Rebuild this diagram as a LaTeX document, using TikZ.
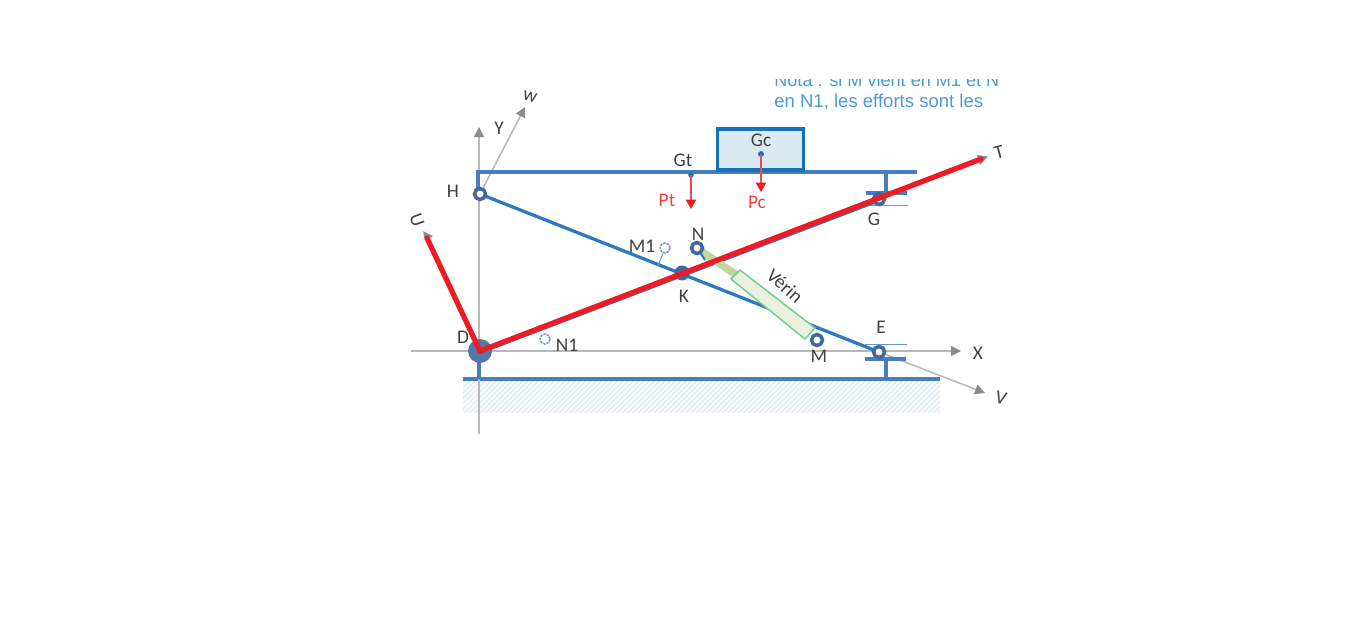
\documentclass[tikz,border=0pt]{standalone}
\usepackage{fontspec}
\setmainfont{Carlito}
\newfontfamily\notafont{Liberation Sans}
\usetikzlibrary{patterns,arrows.meta}
\definecolor{linkblue}{HTML}{2A7ABF}
\definecolor{steel}{HTML}{4A7EBB}
\definecolor{pinblue}{HTML}{41679F}
\definecolor{boxedge}{HTML}{1272BC}
\definecolor{boxfill}{HTML}{DAEAF2}
\definecolor{axisgrey}{HTML}{B8B8B8}
\definecolor{headgrey}{HTML}{8C8C8C}
\definecolor{forcered}{HTML}{ED1C24}
\definecolor{labelred}{HTML}{F5403F}
\definecolor{notablue}{HTML}{4C9AD6}
\definecolor{hatchblue}{HTML}{CFE6EC}
\definecolor{rodgreen}{HTML}{C3D69B}
\definecolor{cylfill}{HTML}{EBF1DE}
\definecolor{cyledge}{HTML}{6FCF8F}
\definecolor{labelgrey}{HTML}{404040}
\tikzset{
  x=0.02cm,y=-0.02cm,
  axisline/.style={draw=axisgrey,line width=0.03cm,-{Triangle[length=0.2cm,width=0.2cm,color=headgrey]}},
  linkbar/.style={draw=linkblue,line width=0.065cm},
  frame/.style={draw=steel,line width=0.085cm},
  thinguide/.style={draw=steel!80,line width=0.02cm},
  redbar/.style={draw=forcered,line width=0.105cm,line cap=round},
  weight/.style={draw=forcered!80,line width=0.025cm,-{Triangle[length=0.19cm,width=0.21cm,color=forcered]}},
  ring/.style={circle,draw=pinblue,fill=white,line width=0.07cm,minimum size=0.22cm,inner sep=0pt},
  ghostring/.style={circle,draw=pinblue!70,dashed,dash pattern=on 0.05cm off 0.02cm,fill=white,line width=0.03cm,minimum size=0.2cm,inner sep=0pt},
  lab/.style={text=labelgrey,font=\fontsize{11pt}{13pt}\selectfont,inner sep=0pt},
  redlab/.style={text=labelred,font=\fontsize{11pt}{13pt}\selectfont,inner sep=0pt},
  nota/.style={text=notablue,font=\notafont\fontsize{10.55pt}{12pt}\selectfont,inner sep=0pt,anchor=base west},
  notacut/.style={text=notablue,font=\notafont\fontsize{10.3pt}{12pt}\selectfont,inner sep=0pt,anchor=base west}
}
\begin{document}
\begin{tikzpicture}
\useasboundingbox (0,0) rectangle (1350,619);
% key points
\coordinate (H) at (480,194);
\coordinate (D) at (480,351);
\coordinate (E) at (879,352);
\coordinate (G) at (879,199);
\coordinate (Kp) at (682,273);
\coordinate (Np) at (697,248);
\coordinate (Mp) at (817,340);
\coordinate (Mone) at (665,248);
\coordinate (None) at (545,339);
\coordinate (Gtp) at (691,175);
\coordinate (Gcp) at (761,154);
% note text, cut at its top
\begin{scope}
\clip (760,79.5) rectangle (1010,120);
\node[notacut] (nota1) at (774,86) {Nota : si M vient en M1 et N};
\node[nota] (nota2) at (774,107) {en N1, les efforts sont les};
\end{scope}
% ground
\fill[pattern=north east lines,pattern color=hatchblue] (463,380) rectangle (940,412);
\fill[hatchblue,opacity=0.18] (463,380) rectangle (940,412);
\coordinate (gl) at (463,379);
\coordinate (gr) at (940,379);
\draw[frame] (gl) -- (gr);
% axes
\coordinate (Xa) at (411,351);
\coordinate (Xb) at (961,351);
\coordinate (Ya) at (479,434);
\coordinate (Yb) at (479,127);
\coordinate (Wb) at (525,107);
\coordinate (Vb) at (985,393);
\draw[axisline] (Xa) -- (Xb);
\draw[axisline] (Ya) -- (Yb);
\draw[axisline] (H) -- (Wb);
\draw[axisline] (E) -- (Vb);
% top beam and load
\coordinate (hs) at (478,194);
\coordinate (bl) at (478,172);
\coordinate (br) at (917,172);
\coordinate (gs) at (886,172);
\coordinate (gb) at (886,193);
\coordinate (es) at (886,379);
\coordinate (eb) at (886,359);
\coordinate (ds) at (479,379);
\coordinate (dt) at (479,351);
\draw[frame] (hs) -- (bl) -- (br);
\draw[frame] (gs) -- (gb);
\draw[frame] (866,193) -- (907,193);
\draw[thinguide] (866,205) -- (908,205);
\draw[frame] (es) -- (eb);
\draw[frame] (865,359) -- (906,359);
\draw[thinguide] (865,344) -- (907,344);
\draw[frame] (dt) -- (ds);
\node[draw=boxedge,fill=boxfill,line width=0.07cm,minimum width=1.72cm,minimum height=0.82cm,inner sep=0pt] (load) at (760.5,149.5) {};
% scissor links
\draw[linkbar] (H) -- (E);
\draw[linkbar] ([yshift=-0.03cm]D) -- ([yshift=-0.03cm]G);
\node[ring] (Gpin) at (G) {};
\node[ring] (Epin) at (E) {};
\node[ring] (Hpin) at (H) {};
\node[circle,fill=pinblue!90,minimum size=0.48cm,inner sep=0pt] (Dpin) at (D) {};
\node[circle,fill=pinblue,minimum size=0.3cm,inner sep=0pt] (Kpin) at (Kp) {};
% jack
\coordinate (rodend) at (735.5,274.5);
\coordinate (Nstub) at (705,260);
\draw[draw=rodgreen,line width=0.15cm] (Np) -- (rodend);
\draw[draw=linkblue,line width=0.04cm] (Np) -- (Nstub);
\node[ring] (Npin) at (Np) {};
\node[ring] (Mpin) at (Mp) {};
\fill[cylfill] (740,270) -- (731,279) -- (805,339) -- (815,328) -- cycle;
\draw[cyledge,line width=0.03cm,line join=round] (740,270) -- (731,279) -- (805,339) -- (815,328) -- cycle;
\node[ghostring] (M1pin) at (Mone) {};
\node[ghostring] (N1pin) at (None) {};
\coordinate (Mlink) at (658,266);
\draw[thinguide] (M1pin) -- (Mlink);
% weights
\fill[boxedge] (Gtp) circle (2.8);
\fill[boxedge] (Gcp) circle (3);
\coordinate (Pt) at (691,209);
\coordinate (Pc) at (761,192);
\draw[weight] (Gtp) -- (Pt);
\draw[weight] (Gcp) -- (Pc);
% red resultants
\coordinate (Ured) at (427,238);
\coordinate (Tred) at (981,159);
\fill[headgrey] (423,231) -- (433,236) -- (425,241) -- cycle;
\fill[headgrey] (988,156.5) -- (977,155) -- (980,165) -- cycle;
\draw[redbar] (D) -- (Ured);
\draw[redbar] (D) -- (Tred);
% labels
\node[lab] (lH) at (453,191) {H};
\node[lab] (lY) at (499,128) {Y};
\node[lab,rotate=-15] (lw) at (530,97) {w};
\node[lab,rotate=-70] (lU) at (417,220) {U};
\node[lab,rotate=15] (lT) at (999,152) {T};
\node[lab,rotate=-15] (lV) at (1001,398) {V};
\node[lab] (lX) at (978,353) {X};
\node[lab] (lD) at (463,337) {D};
\node[lab] (lM1) at (642,246) {M1};
\node[lab] (lN) at (698,234) {N};
\node[lab] (lK) at (684,296) {K};
\node[lab] (lN1) at (567,345) {N1};
\node[lab] (lM) at (819,356) {M};
\node[lab] (lE) at (881,327) {E};
\node[lab] (lG) at (874,219) {G};
\node[lab] (lGt) at (683,160) {Gt};
\node[lab] (lGc) at (761,140) {Gc};
\node[lab,rotate=-42] (lV2) at (785,286) {Vérin};
\node[redlab] (lPt) at (667,200) {Pt};
\node[redlab] (lPc) at (757,202) {Pc};
\end{tikzpicture}
\end{document}
